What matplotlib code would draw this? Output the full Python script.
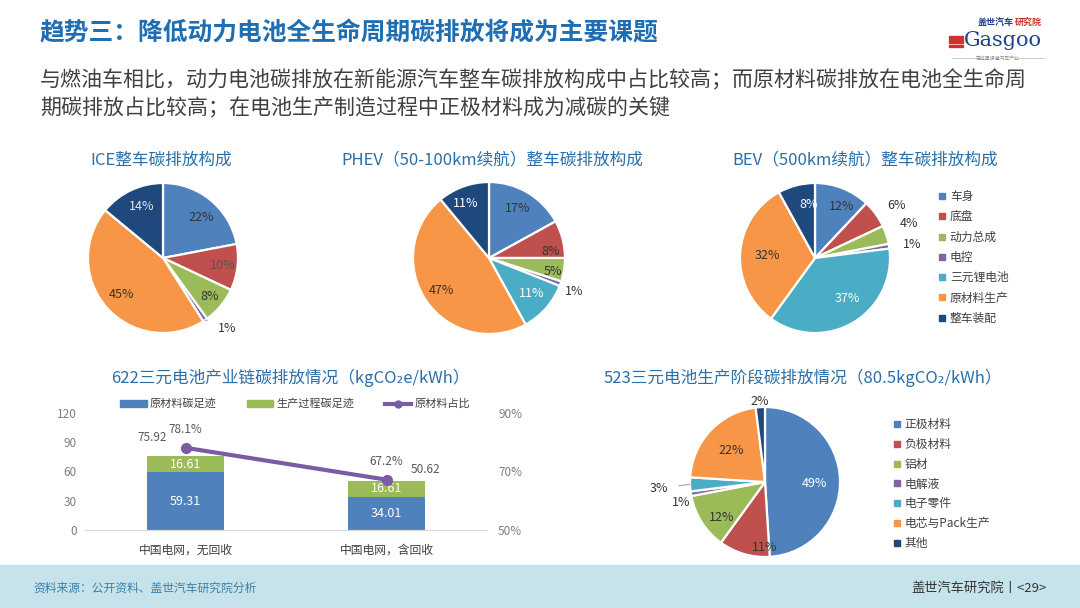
import matplotlib
matplotlib.use('Agg')
import matplotlib.pyplot as plt
from matplotlib.patches import Rectangle
from matplotlib.lines import Line2D
import numpy as np

plt.rcParams['font.family'] = ['Noto Sans CJK SC', 'DejaVu Sans']

# ---------------- data ----------------
car_parts = ['车身', '底盘', '动力总成', '电控', '三元锂电池', '原材料生产', '整车装配']
ice_share = [22, 10, 8, 1, 0, 45, 14]
phev_share = [17, 8, 5, 1, 11, 47, 11]
bev_share = [12, 6, 4, 1, 37, 32, 8]

cell_parts = ['正极材料', '负极材料', '铝材', '电解液', '电子零件', '电芯与Pack生产', '其他']
cell_share = [49, 11, 12, 1, 3, 22, 2]

grid_cases = ['中国电网，无回收', '中国电网，含回收']
raw_fp = [59.31, 34.01]
proc_fp = [16.61, 16.61]
total_fp = [75.92, 50.62]
raw_ratio = [78.1, 67.2]
left_ticks = [0, 30, 60, 90, 120]
right_ticks = [50, 70, 90]

# ---------------- style ----------------
C_BLUE = '#4F81BD'
C_RED = '#C0504D'
C_GREEN = '#9BBB59'
C_PURPLE = '#8064A2'
C_TEAL = '#4BACC6'
C_ORANGE = '#F79646'
C_NAVY = '#1F497D'
PIE_COLORS = [C_BLUE, C_RED, C_GREEN, C_PURPLE, C_TEAL, C_ORANGE, C_NAVY]
TITLE_C = '#1E6EB4'
SUB_C = '#2A6FAA'
TXT = '#404040'

W, H = 1080, 608
fig = plt.figure(figsize=(W / 100, H / 100), dpi=100)
fig.patch.set_facecolor('white')


def px_axes(x0, y0, w, h, **kw):
    return fig.add_axes([x0 / W, 1 - (y0 + h) / H, w / W, h / H], **kw)


def fx(x):
    return x / W


def fy(y):
    return 1 - y / H


# ---------------- header ----------------
fig.text(fx(40), fy(33), '趋势三：降低动力电池全生命周期碳排放将成为主要课题',
         fontsize=17.8, fontweight='bold', color=TITLE_C, va='center', ha='left')
fig.text(fx(40), fy(80), '与燃油车相比，动力电池碳排放在新能源汽车整车碳排放构成中占比较高；而原材料碳排放在电池全生命周',
         fontsize=15.1, color=TXT, va='center', ha='left')
fig.text(fx(40), fy(107), '期碳排放占比较高；在电池生产制造过程中正极材料成为减碳的关键',
         fontsize=15.1, color=TXT, va='center', ha='left')

# logo
fig.text(fx(978), fy(23), '盖世汽车', fontsize=6.5, fontweight='bold', color='#1F3F8F', va='center', ha='left')
fig.text(fx(1015), fy(23), '研究院', fontsize=6.5, fontweight='bold', color='#D0312D', va='center', ha='left')
fig.text(fx(1003), fy(41), 'Gasgoo', fontsize=15, family='DejaVu Serif', color='#1F3F8F', va='center', ha='center')
for i in range(3):
    fig.patches.append(Rectangle((fx(949), fy(38.5 + i * 4.2)), 14 / W, 2.4 / H, transform=fig.transFigure,
                                 color='#D0312D'))
fig.text(fx(998), fy(58), '在这里读懂汽车产业', fontsize=3.5, color='#888888', va='center', ha='center')
fig.add_artist(Line2D([fx(952), fx(978)], [fy(58), fy(58)], color='#bbbbbb', lw=0.5))
fig.add_artist(Line2D([fx(1018), fx(1044)], [fy(58), fy(58)], color='#bbbbbb', lw=0.5))

# ---------------- pies ----------------


def draw_pie(cx, cy, r, values, lab_pos, lab_col, leaders=()):
    L = 1.7
    size = 2 * L * r
    ax = px_axes(cx - size / 2, cy - size / 2, size, size)
    wedges, _ = ax.pie(values, colors=PIE_COLORS, startangle=90, counterclock=False, radius=1,
                       wedgeprops=dict(edgecolor='white', linewidth=1.6))
    ax.set_xlim(-L, L)
    ax.set_ylim(-L, L)
    ax.set_aspect('equal')
    ax.axis('off')
    for i, (w, v, (rl, dth), c) in enumerate(zip(wedges, values, lab_pos, lab_col)):
        if v == 0:
            continue
        mid = (w.theta1 + w.theta2) / 2
        th = np.deg2rad(mid + dth)
        tx, ty = rl * np.cos(th), rl * np.sin(th)
        if i in leaders:
            m = np.deg2rad(mid)
            ax.annotate(f'{v}%', xy=(1.0 * np.cos(m), 1.0 * np.sin(m)), xytext=(tx, ty),
                        fontsize=9, color=c, ha='center', va='center',
                        arrowprops=dict(arrowstyle='-', color='#a6a6a6', lw=0.8, shrinkA=6, shrinkB=0))
        else:
            ax.text(tx, ty, f'{v}%', fontsize=9, color=c, ha='center', va='center')
    return ax, wedges


def pie_title(x, y, s):
    fig.text(fx(x), fy(y), s, fontsize=12, color=SUB_C, ha='center', va='center')


pie_title(161, 160, 'ICE整车碳排放构成')
pie_title(492, 160, 'PHEV（50-100km续航）整车碳排放构成')
pie_title(865, 160, 'BEV（500km续航）整车碳排放构成')

DK = '#333333'
WH = 'white'

draw_pie(163, 258, 75, ice_share,
         [(0.74, -4), (0.8, 0), (0.8, 0), (1.27, 8), (0, 0), (0.73, 0), (0.74, -3)],
         [DK, '#555555', DK, DK, DK, DK, '#e8e8e8'], leaders=(3,))
draw_pie(489, 258, 76, phev_share,
         [(0.75, 0), (0.82, -8), (0.86, -3), (1.2, -2), (0.73, 2), (0.76, 0), (0.78, 3)],
         [DK, DK, DK, DK, WH, DK, WH])
draw_pie(815, 258, 75, bev_share,
         [(0.78, -6), (1.29, -3), (1.33, 2), (1.31, -1), (0.69, 8), (0.63, 0), (0.72, -8)],
         [DK, DK, DK, DK, WH, DK, WH])
draw_pie(765, 482, 75, cell_share,
         [(0.66, -3), (0.88, 16), (0.75, 7), (1.15, 5), (1.42, 1.5), (0.62, 0), (1.08, 0)],
         [WH, DK, DK, DK, DK, DK, DK], leaders=(4,))

pie_title(803, 378, '523三元电池生产阶段碳排放情况（80.5kgCO₂/kWh）')

# pie legends


def pie_legend(x, y, labels, spacing):
    handles = [Line2D([], [], marker='s', ls='', color=c, markersize=4.5) for c in PIE_COLORS]
    fig.legend(handles, labels, loc='upper left', bbox_to_anchor=(fx(x), fy(y)),
               frameon=False, fontsize=8.5, labelcolor=TXT, handlelength=0.6,
               handletextpad=0.4, labelspacing=spacing, borderpad=0, borderaxespad=0)


pie_legend(938, 190, car_parts, 0.62)
pie_legend(893, 418, cell_parts, 0.58)

# ---------------- bar + line chart ----------------
axb = px_axes(85, 413, 402, 117)
x = np.arange(len(grid_cases))
bw = 0.38
axb.bar(x, raw_fp, width=bw, color=C_BLUE, zorder=2)
axb.bar(x, proc_fp, bottom=raw_fp, width=bw, color=C_GREEN, zorder=2)
axb.set_xlim(-0.5, 1.5)
axb.set_ylim(left_ticks[0], left_ticks[-1])
axb.set_yticks(left_ticks)
axb.set_xticks(x)
axb.set_xticklabels(grid_cases)
axb.tick_params(axis='y', length=0, labelsize=8.5, labelcolor='#7f7f7f', pad=6)
axb.tick_params(axis='x', length=0, labelsize=8.5, labelcolor=TXT, pad=10)
for s in ['top', 'left', 'right']:
    axb.spines[s].set_visible(False)
axb.spines['bottom'].set_color('#d9d9d9')
axb.spines['bottom'].set_linewidth(0.9)
axb.patch.set_alpha(0)

for xi, rv, pv in zip(x, raw_fp, proc_fp):
    axb.text(xi, rv / 2, f'{rv:.2f}', color='white', fontsize=9, ha='center', va='center', zorder=3)
    axb.text(xi, rv + pv / 2, f'{pv:.2f}', color='white', fontsize=9, ha='center', va='center', zorder=3)

axr = axb.twinx()
axr.set_ylim(right_ticks[0], right_ticks[-1])
axr.set_yticks(right_ticks)
axr.set_yticklabels([f'{t}%' for t in right_ticks])
axr.tick_params(axis='y', length=0, labelsize=8.5, labelcolor='#7f7f7f', pad=8)
for s in ['top', 'left', 'right', 'bottom']:
    axr.spines[s].set_visible(False)
axr.plot(x, raw_ratio, color='#7B5AA6', lw=3, marker='o', markersize=7, zorder=4)

# data labels
tot_off = [(-24, 13), (28, 8)]
for xi, t, off in zip(x, total_fp, tot_off):
    axb.annotate(f'{t:.2f}', xy=(xi, t), xytext=off, textcoords='offset points',
                 fontsize=8.5, color='#595959', ha='center', va='center')
for xi, rr in zip(x, raw_ratio):
    axr.annotate(f'{rr}%', xy=(xi, rr), xytext=(0, 13), textcoords='offset points',
                 fontsize=8.5, color='#595959', ha='center', va='center')

# legend of bar chart
bh = [Rectangle((0, 0), 1, 1, color=C_BLUE), Rectangle((0, 0), 1, 1, color=C_GREEN),
      Line2D([], [], color='#7B5AA6', lw=3, marker='o', markersize=5)]
fig.legend(bh, ['原材料碳足迹', '生产过程碳足迹', '原材料占比'], loc='center', ncol=3,
           bbox_to_anchor=(fx(295), fy(404)), frameon=False, fontsize=8, labelcolor=TXT,
           handlelength=2.4, handleheight=0.6, handletextpad=0.3, columnspacing=2.7,
           borderpad=0, borderaxespad=0)

fig.text(fx(290), fy(378), '622三元电池产业链碳排放情况（kgCO₂e/kWh）', fontsize=12, color=SUB_C,
         ha='center', va='center')

# ---------------- footer ----------------
fig.patches.append(Rectangle((0, 0), 1, 43 / H, transform=fig.transFigure, color='#C6E3EB', zorder=0))
fig.text(fx(33), fy(588), '资料来源：公开资料、盖世汽车研究院分析', fontsize=8.5, color='#3C7FA6',
         ha='left', va='center', style='italic')
fig.text(fx(1047), fy(588), '盖世汽车研究院丨<29>', fontsize=9.5, color='#333333', ha='right', va='center')

fig.savefig('out.png', dpi=100)
